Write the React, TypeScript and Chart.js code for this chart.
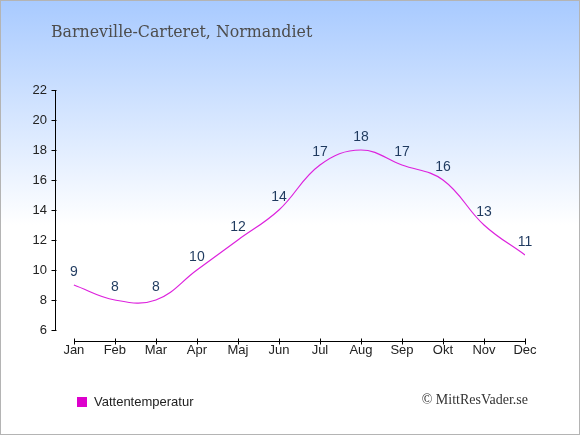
import React, { useEffect, useRef } from 'react';
import { Chart, registerables } from 'chart.js';

Chart.register(...registerables);

const months = ['Jan', 'Feb', 'Mar', 'Apr', 'Maj', 'Jun', 'Jul', 'Aug', 'Sep', 'Okt', 'Nov', 'Dec'];
const waterTemps = [9, 8, 8, 10, 12, 14, 17, 18, 17, 16, 13, 11];
const yTicks = [6, 8, 10, 12, 14, 16, 18, 20, 22];
const seriesName = 'Vattentemperatur';
const titleText = 'Barneville-Carteret, Normandiet';
const creditText = '© MittResVader.se';

const LINE_COLOR = '#dd22dd';
const SANS = '"Liberation Sans", Arial, sans-serif';
const SERIF = '"DejaVu Serif", "Liberation Serif", serif';

// background, frame and the free texts
const decorPlugin = {
  id: 'decor',
  beforeDraw(chart: any) {
    const { ctx, width, height } = chart;
    ctx.save();
    const g = ctx.createLinearGradient(0, 0, 0, 225);
    g.addColorStop(0, '#a8caff');
    g.addColorStop(1, '#ffffff');
    ctx.fillStyle = '#ffffff';
    ctx.fillRect(0, 0, width, height);
    ctx.fillStyle = g;
    ctx.fillRect(0, 0, width, 225);
    ctx.strokeStyle = '#b4b4b4';
    ctx.lineWidth = 1;
    ctx.strokeRect(0.5, 0.5, width - 1, height - 1);
    ctx.restore();
  },
  afterDraw(chart: any) {
    const { ctx } = chart;
    ctx.save();
    ctx.textBaseline = 'middle';

    ctx.font = `15.8px ${SERIF}`;
    ctx.fillStyle = '#4d4d4d';
    ctx.textAlign = 'left';
    ctx.fillText(titleText, 51, 33);

    // legend
    const ds = chart.data.datasets[0];
    ctx.fillStyle = '#dd00cc';
    ctx.fillRect(77, 397, 10, 10);
    ctx.font = `13px ${SANS}`;
    ctx.fillStyle = '#222';
    ctx.fillText(ds.label, 94, 402);

    ctx.font = '14px "Liberation Serif", serif';
    ctx.fillStyle = '#333';
    ctx.textAlign = 'right';
    ctx.fillText(creditText, 528, 400);
    ctx.restore();
  }
};

// detached axis lines and tick marks
const axesPlugin = {
  id: 'axesMarks',
  afterDraw(chart: any) {
    const { ctx, chartArea } = chart;
    const x = chart.scales.x;
    const y = chart.scales.y;
    ctx.save();
    ctx.strokeStyle = '#000';
    ctx.lineWidth = 1;
    ctx.beginPath();
    const ax = Math.round(chartArea.left) - 0.5;
    y.ticks.forEach((t: any) => {
      const py = Math.round(y.getPixelForValue(t.value)) + 0.5;
      ctx.moveTo(ax - 3, py);
      ctx.lineTo(ax + 2, py);
    });
    const ay = Math.round(chartArea.bottom) + 11.5;
    const x0 = Math.round(x.getPixelForValue(0)) + 0.5;
    const x1 = Math.round(x.getPixelForValue(months.length - 1)) + 0.5;
    ctx.moveTo(x0, ay);
    ctx.lineTo(x1, ay);
    months.forEach((_, i) => {
      const px = Math.round(x.getPixelForValue(i)) + 0.5;
      ctx.moveTo(px, ay - 3);
      ctx.lineTo(px, ay + 3);
    });
    ctx.stroke();
    ctx.restore();
  }
};

// value labels above the points
const valueLabels = {
  id: 'valueLabels',
  afterDatasetsDraw(chart: any) {
    const { ctx } = chart;
    const meta = chart.getDatasetMeta(0);
    ctx.save();
    ctx.font = `14px ${SANS}`;
    ctx.fillStyle = '#1f3a5f';
    ctx.textAlign = 'center';
    ctx.textBaseline = 'middle';
    meta.data.forEach((pt: any, i: number) => {
      ctx.fillText(String(waterTemps[i]), pt.x, pt.y - 13);
    });
    ctx.restore();
  }
};

export default function App() {
  const canvasRef = useRef<HTMLCanvasElement>(null);
  const chartRef = useRef<Chart | null>(null);

  useEffect(() => {
    document.body.style.margin = '0';
    const el = canvasRef.current;
    if (!el) return;

    chartRef.current = new Chart(el, {
      type: 'line',
      data: {
        datasets: [{
          label: seriesName,
          data: waterTemps.map((v, i) => ({ x: i, y: v })),
          borderColor: LINE_COLOR,
          borderWidth: 1.2,
          tension: 0.4,
          pointRadius: 0,
          fill: false
        }]
      },
      options: {
        responsive: false,
        animation: false,
        layout: { padding: { top: 90, right: 55, bottom: 65, left: 0 } },
        plugins: {
          legend: { display: false },
          tooltip: { enabled: false }
        },
        scales: {
          x: {
            type: 'linear',
            min: -0.46,
            max: months.length - 1,
            afterBuildTicks: (scale: any) => {
              scale.ticks = months.map((_, i) => ({ value: i }));
            },
            afterFit: (scale: any) => { scale.height = 40; },
            grid: { display: false, drawTicks: false },
            border: { display: false },
            ticks: {
              autoSkip: false,
              maxRotation: 0,
              padding: 13,
              color: '#222',
              font: { family: SANS, size: 13 },
              callback: (v: any) => months[v] ?? ''
            }
          },
          y: {
            min: yTicks[0],
            max: yTicks[yTicks.length - 1],
            afterBuildTicks: (scale: any) => {
              scale.ticks = yTicks.map((v) => ({ value: v }));
            },
            afterFit: (scale: any) => { scale.width = 55; },
            grid: { display: false, drawTicks: false },
            border: { display: true, color: '#000', width: 1 },
            ticks: {
              padding: 8,
              color: '#222',
              font: { family: SANS, size: 13 }
            }
          }
        }
      },
      plugins: [decorPlugin, axesPlugin, valueLabels]
    });

    return () => {
      chartRef.current?.destroy();
      chartRef.current = null;
    };
  }, []);

  return (
    <div style={{ width: '580px', height: '435px', position: 'relative' }}>
      <canvas ref={canvasRef} width={580} height={435} style={{ width: '580px', height: '435px' }} />
    </div>
  );
}
